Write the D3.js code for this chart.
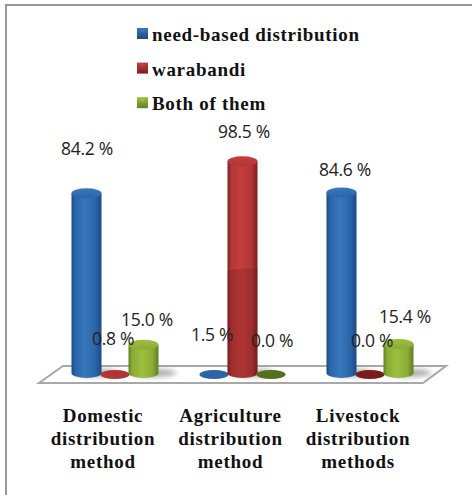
<!DOCTYPE html>
<html><head><meta charset="utf-8"><script src="https://cdn.jsdelivr.net/npm/d3@7"></script>
<style>html,body{margin:0;padding:0;background:#fff}svg{display:block}</style></head><body>
<svg id="c" width="472" height="495"></svg>
<script>
const categories=[["Domestic","distribution","method"],["Agriculture","distribution","method"],["Livestock","distribution","methods"]];
const seriesNames=["need-based distribution","warabandi","Both of them"];
const needBased=[84.2,1.5,84.6];
const warabandi=[0.8,98.5,0.0];
const both=[15.0,0.0,15.4];
const seriesColors=["#2a65a8","#b23636","#8aab35"];
const labelText=d=>d.toFixed(1)+" %";

const svg=d3.select("#c");
const defs=svg.append("defs");
const seriesValues=[needBased,warabandi,both];
const dark=["#1b4a84","#7e2020","#5f7f22"];
const light=["#3877bd","#c63d3d","#9dbf3e"];
seriesColors.forEach((c,i)=>{
  const g=defs.append("linearGradient").attr("id","g"+i);
  [[0,dark[i]],[.12,c],[.45,light[i]],[.8,c],[1,dark[i]]].forEach(s=>g.append("stop").attr("offset",s[0]).attr("stop-color",s[1]));
  const t=defs.append("linearGradient").attr("id","t"+i).attr("y2",1).attr("x2",0);
  [[0,light[i]],[1,c]].forEach(s=>t.append("stop").attr("offset",s[0]).attr("stop-color",s[1]));
  const l=defs.append("linearGradient").attr("id","l"+i).attr("y2",1).attr("x2",0);
  [[0,light[i]],[1,dark[i]]].forEach(s=>l.append("stop").attr("offset",s[0]).attr("stop-color",s[1]));
});
const bl=defs.append("filter").attr("id","blur").attr("x","-50%").attr("width","200%").attr("y","-100%").attr("height","300%");
bl.append("feGaussianBlur").attr("stdDeviation",2.5);
defs.append("filter").attr("id","soft").append("feGaussianBlur").attr("stdDeviation",.4);

// frame
svg.append("path").attr("d","M6 495V5H472").attr("fill","none").attr("stroke","#999").attr("stroke-width",2);

// scales
const x0=d3.scalePoint().domain(d3.range(3)).range([115,370]);
const x1=d3.scalePoint().domain(d3.range(3)).range([-28.5,28.5]);
const y=d3.scalePow().exponent(1.04).domain([0,100]).range([375,157.8]);
const cx=(c,s)=>x0(c)+x1(s);

// floor
svg.append("path").attr("d",d3.line()([[39,383],[423,383],[446,366],[63,366]])+"Z").attr("fill","#fff").attr("stroke","#a8a8a8").attr("stroke-width",2);

const rx=15,ry=5;
const plot=svg.append("g");
categories.forEach((_,c)=>seriesValues.forEach((vals,s)=>{
  const v=vals[c],X=cx(c,s),top=y(v);
  const tall=v>=5;
  if(tall){
    plot.append("ellipse").attr("cx",X+10).attr("cy",373).attr("rx",rx+8).attr("ry",4).attr("fill","#777").attr("opacity",.6).attr("filter","url(#blur)");
    plot.append("path").attr("d",`M${X-rx} ${top}V373A${rx} ${ry} 0 0 0 ${X+rx} 373V${top}Z`).attr("fill",`url(#g${s})`).attr("filter","url(#soft)");
    plot.append("ellipse").attr("cx",X).attr("cy",top).attr("rx",rx).attr("ry",ry).attr("fill",`url(#t${s})`);
    if(s===1){ // darker lower part of the tall red column
      plot.append("path").attr("d",`M${X-rx} 271Q${X} 267 ${X+rx} 269V373A${rx} ${ry} 0 0 1 ${X-rx} 373Z`).attr("fill","#5a1010").attr("opacity",.22);
    }
  } else {
    const shade=v===0?(s===1?"#7a1c1c":"#55701f"):seriesColors[s];
    plot.append("ellipse").attr("cx",X).attr("cy",374.5).attr("rx",rx-0.5).attr("ry",ry-0.5).attr("fill",shade).attr("filter","url(#soft)");
  }
}));

// data labels
const labelPos=[[[87,150],[113,340],[147,321]],[[212,336],[244,133.5],[272,342]],[[345,171],[372,342],[405,318]]];
const labels=svg.append("g").attr("font-family","'Open Sans','Noto Sans',sans-serif").attr("font-size",17.5).attr("fill","#222").attr("text-anchor","middle");
categories.forEach((_,c)=>seriesValues.forEach((vals,s)=>{
  labels.append("text").attr("x",labelPos[c][s][0]).attr("y",labelPos[c][s][1]).attr("dominant-baseline","middle").attr("letter-spacing","-0.3").text(labelText(vals[c]));
}));

// category labels
const catX=[103,230.5,358];
const cats=svg.append("g").attr("font-family","'Liberation Serif',serif").attr("font-weight","bold").attr("font-size",19).attr("letter-spacing","0.7").attr("fill","#111").attr("text-anchor","middle");
categories.forEach((lines,c)=>lines.forEach((t,i)=>{
  cats.append("text").attr("x",catX[c]).attr("y",422+i*23.2).text(t);
}));

// legend
const leg=svg.append("g").attr("font-family","'Liberation Serif',serif").attr("font-weight","bold").attr("font-size",19).attr("letter-spacing","0.7").attr("fill","#111");
seriesNames.forEach((n,i)=>{
  const yy=35+i*34.6;
  leg.append("rect").attr("x",137).attr("y",yy-7).attr("width",11).attr("height",11).attr("fill",`url(#l${i})`);
  leg.append("path").attr("d",`M139 ${yy-6}L142.5 ${yy-2}L146 ${yy-6}Z`).attr("fill",light[i]);
  leg.append("text").attr("x",152).attr("y",yy+6).text(n);
});
</script></body></html>
